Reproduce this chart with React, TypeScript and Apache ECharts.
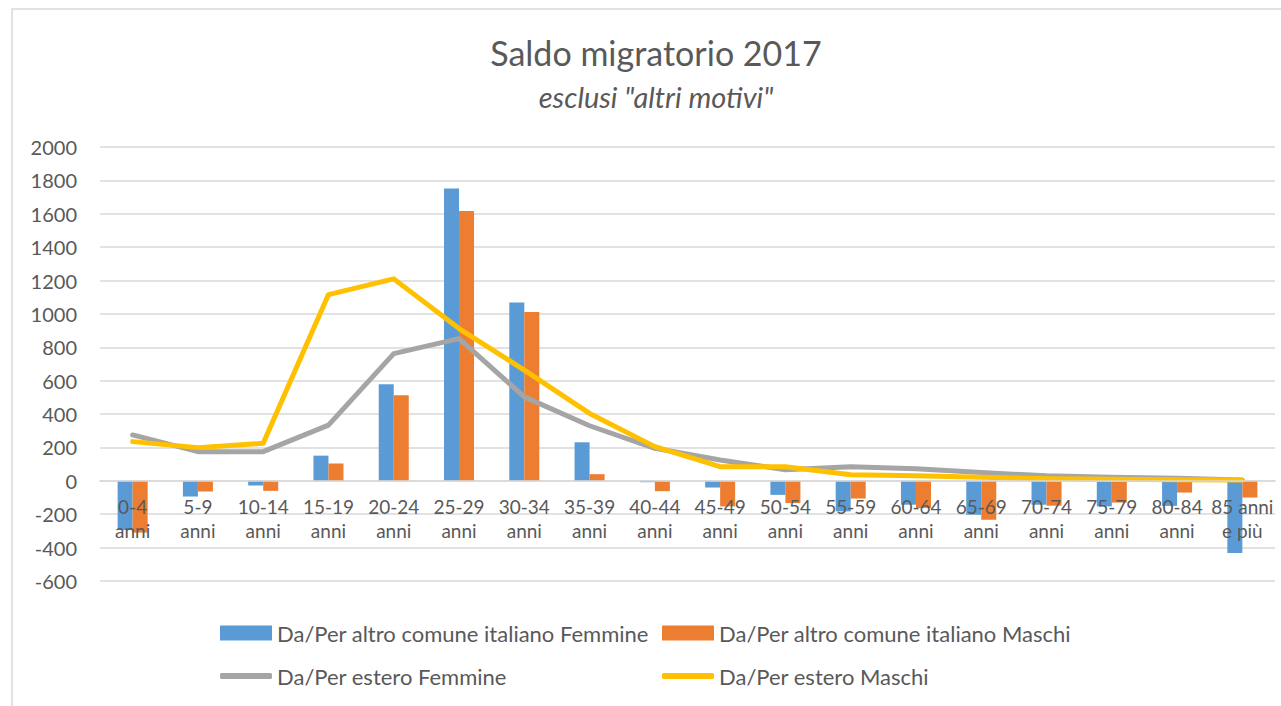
import React, { useEffect, useRef } from "react";
import * as echarts from "echarts";

const categories = [
  "0-4 anni", "5-9 anni", "10-14 anni", "15-19 anni", "20-24 anni", "25-29 anni",
  "30-34 anni", "35-39 anni", "40-44 anni", "45-49 anni", "50-54 anni", "55-59 anni",
  "60-64 anni", "65-69 anni", "70-74 anni", "75-79 anni", "80-84 anni", "85 anni e più",
];

const seriesNames = [
  "Da/Per altro comune italiano Femmine",
  "Da/Per altro comune italiano Maschi",
  "Da/Per estero Femmine",
  "Da/Per estero Maschi",
];

const comuneFemmine = [-295, -94, -28, 151, 579, 1752, 1068, 231, -8, -40, -84, -183, -143, -203, -143, -153, -150, -433];
const comuneMaschi = [-310, -64, -60, 104, 513, 1617, 1012, 40, -62, -153, -133, -106, -163, -233, -149, -130, -70, -100];
const esteroFemmine = [275, 175, 175, 334, 762, 852, 503, 330, 195, 125, 66, 85, 72, 50, 30, 22, 16, 5];
const esteroMaschi = [235, 199, 225, 1116, 1210, 912, 663, 404, 205, 85, 85, 36, 30, 22, 12, 10, 6, 5];

const yTicks = { min: -600, max: 2000, interval: 200 };

const FONT = "Lato, 'Noto Sans', sans-serif";
const TEXT = "#595959";
const GRID = "#d9d9d9";
const COLORS = ["#5B9BD5", "#ED7D31", "#A5A5A5", "#FFC000"];

const GRID_TOP = 147;
const GRID_BOTTOM_PX = 581;

export default function App() {
  const ref = useRef<HTMLDivElement>(null);

  useEffect(() => {
    document.body.style.margin = "0";
    if (!ref.current) return;
    const chart = echarts.init(ref.current, null, { renderer: "svg" });

    const legendText = { fontSize: 22, color: TEXT, fontFamily: FONT };
    // pixel offset of the zero line from the bottom of the plot
    const zeroOffset =
      ((0 - yTicks.min) / (yTicks.max - yTicks.min)) * (GRID_BOTTOM_PX - GRID_TOP);

    chart.setOption({
      animation: false,
      backgroundColor: "#ffffff",
      textStyle: { fontFamily: FONT },
      graphic: [
        {
          type: "rect",
          shape: { x: 12, y: 9, width: 1300, height: 720 },
          style: { fill: "none", stroke: GRID, lineWidth: 1.5 },
          silent: true,
        },
        {
          type: "text",
          x: 656,
          y: 52,
          style: {
            text: "Saldo migratorio 2017",
            fontSize: 34,
            fontFamily: FONT,
            fill: TEXT,
            align: "center",
            verticalAlign: "middle",
          },
        },
        {
          type: "text",
          x: 656,
          y: 96,
          style: {
            text: 'esclusi "altri motivi"',
            fontSize: 29,
            fontStyle: "italic",
            fontFamily: FONT,
            fill: TEXT,
            align: "center",
            verticalAlign: "middle",
          },
        },
      ],
      grid: { left: 100, right: 6, top: GRID_TOP, bottom: 706 - GRID_BOTTOM_PX, containLabel: false },
      legend: [
        {
          data: [seriesNames[0]], left: 220, top: 622, padding: 0, itemWidth: 52, itemHeight: 15,
          icon: "rect", textStyle: legendText,
        },
        {
          data: [seriesNames[1]], left: 662, top: 622, padding: 0, itemWidth: 52, itemHeight: 15,
          icon: "rect", textStyle: legendText,
        },
        {
          data: [seriesNames[2]], left: 220, top: 665, padding: 0, itemWidth: 52, itemHeight: 6,
          icon: "roundRect", textStyle: legendText,
        },
        {
          data: [seriesNames[3]], left: 662, top: 665, padding: 0, itemWidth: 52, itemHeight: 6,
          icon: "roundRect", textStyle: legendText,
        },
      ],
      xAxis: {
        type: "category",
        data: categories,
        position: "bottom",
        offset: -zeroOffset,
        z: 10,
        axisLine: { onZero: false, lineStyle: { color: GRID, width: 1.5 } },
        axisTick: { show: false },
        axisLabel: {
          interval: 0,
          fontSize: 19,
          lineHeight: 24,
          color: TEXT,
          fontFamily: FONT,
          margin: 14,
          formatter: (v: string) =>
            v.indexOf(" e più") >= 0 ? v.replace(" e più", "\ne più") : v.replace(" ", "\n"),
        },
      },
      yAxis: {
        type: "value",
        min: yTicks.min,
        max: yTicks.max,
        interval: yTicks.interval,
        axisLine: { show: false },
        axisTick: { show: false },
        axisLabel: {
          fontSize: 20,
          color: TEXT,
          fontFamily: FONT,
          margin: 23,
          formatter: (v: number) => String(v),
        },
        splitLine: { lineStyle: { color: GRID, width: 1.5 } },
      },
      series: [
        {
          name: seriesNames[0], type: "bar", data: comuneFemmine, color: COLORS[0],
          barGap: "0%", barCategoryGap: "54%", itemStyle: { color: COLORS[0] },
        },
        {
          name: seriesNames[1], type: "bar", data: comuneMaschi, color: COLORS[1],
          barGap: "0%", barCategoryGap: "54%", itemStyle: { color: COLORS[1] },
        },
        {
          name: seriesNames[2], type: "line", data: esteroFemmine, color: COLORS[2],
          symbol: "none", z: 5,
          lineStyle: { color: COLORS[2], width: 5, cap: "round", join: "round" },
          itemStyle: { color: COLORS[2] },
        },
        {
          name: seriesNames[3], type: "line", data: esteroMaschi, color: COLORS[3],
          symbol: "none", z: 6,
          lineStyle: { color: COLORS[3], width: 5, cap: "round", join: "round" },
          itemStyle: { color: COLORS[3] },
        },
      ],
    });

    return () => chart.dispose();
  }, []);

  return <div ref={ref} style={{ width: 1281, height: 706 }} />;
}
